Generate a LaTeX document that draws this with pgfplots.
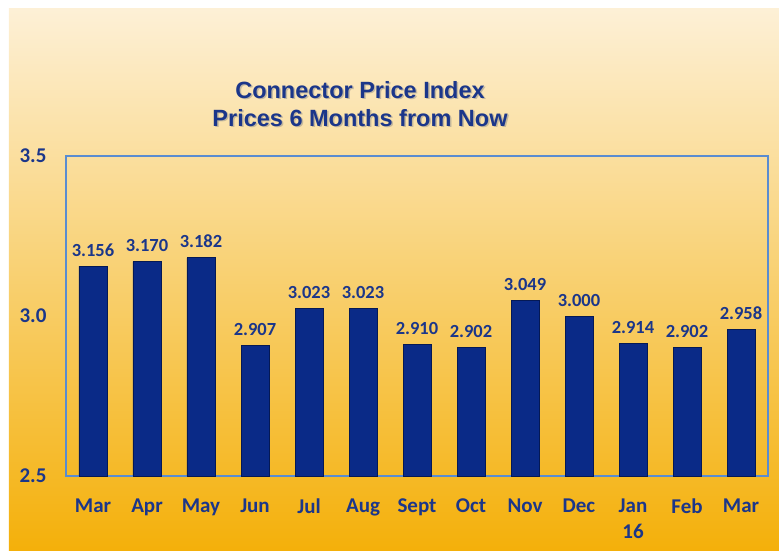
\documentclass[border=0pt]{standalone}
\usepackage{pgfplots}
\pgfplotsset{compat=1.18}
\usepackage{fontspec}
\setmainfont{Carlito}
\newfontfamily\titlefont{Liberation Sans}
\definecolor{bgtop}{RGB}{253,240,214}
\definecolor{bgmid}{RGB}{246,204,100}
\definecolor{bgbot}{RGB}{244,176,10}
\definecolor{txtblue}{RGB}{27,54,138}
\definecolor{frameblue}{RGB}{90,140,208}
\definecolor{barfill}{RGB}{10,42,135}
\definecolor{baredge}{RGB}{5,25,85}
\begin{document}
\begin{tikzpicture}[x=1pt,y=1pt]
\useasboundingbox (-66,-74) rectangle (713,476);
\shade[top color=bgtop, middle color=bgmid, bottom color=bgbot] (-57,-74) rectangle (713,467);
\node[text=black!45, opacity=0.5, align=center, font=\titlefont\fontsize{23.5}{28}\selectfont\bfseries] at (295.5,370.5) {Connector Price Index\\Prices 6 Months from Now};
\node[text=txtblue, align=center, font=\titlefont\fontsize{23.5}{28}\selectfont\bfseries] at (294,372) {Connector Price Index\\Prices 6 Months from Now};
\begin{axis}[
  at={(0,0)}, anchor=south west,
  width=702pt, height=320pt, scale only axis,
  ymin=2.5, ymax=3.5, xmin=-0.5, xmax=12.5,
  ytick={2.5,3.0,3.5}, yticklabels={2.5,3.0,3.5},
  xtick={0,1,2,3,4,5,6,7,8,9,10,11,12},
  xticklabels={Mar,Apr,May,Jun,Jul,Aug,Sept,Oct,Nov,Dec,{Jan\\16},Feb,Mar},
  major tick length=0pt,
  axis line style={draw=frameblue, line width=1.5pt},
  ticklabel style={text=txtblue, font=\fontsize{21}{26}\selectfont\bfseries},
  xticklabel style={align=center, yshift=-19pt},
  yticklabel style={xshift=-16pt},
  axis background/.style={fill=none},
  clip=false,
]
\addplot[ybar, bar width=28pt, draw=baredge, line width=0.8pt, fill=barfill,
  point meta=explicit symbolic,
  nodes near coords,
  every node near coord/.append style={text=txtblue, font=\fontsize{18.5}{22}\selectfont\bfseries, yshift=6pt}]
coordinates {
(0,3.156) [3.156]
(1,3.170) [3.170]
(2,3.182) [3.182]
(3,2.907) [2.907]
(4,3.023) [3.023]
(5,3.023) [3.023]
(6,2.910) [2.910]
(7,2.902) [2.902]
(8,3.049) [3.049]
(9,3.000) [3.000]
(10,2.914) [2.914]
(11,2.902) [2.902]
(12,2.958) [2.958]
};
\end{axis}
\end{tikzpicture}
\end{document}
